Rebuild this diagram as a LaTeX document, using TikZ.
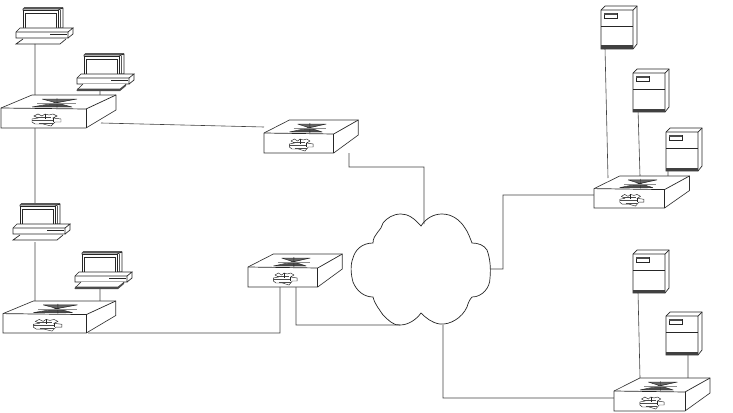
\documentclass[tikz,border=0pt]{standalone}
\tikzset{
  line/.style={line width=0.7pt,black!85},
  conn/.style={line width=0.6pt,black!75},
  hair/.style={line width=0.45pt,black!85},
  switchbox/.pic={
    \path[fill=white,line width=0.65pt,draw=black!80] (0,13)--(31,0)--(115,0)--(115,15)--(85,33)--(0,33)--cycle;
    \draw[line] (0,13)--(85,14)--(115,0);
    \draw[line] (85,14)--(85,33);
    % crossed arrows emblem on top
    \fill[black!60] (41,4)--(76,4)--(56,8)--cycle;
    \fill[black!70] (31,12)--(71,12)--(56,8)--cycle;
    \draw[hair] (41,4)--(76,4) (31,12)--(71,12) (41,4)--(71,12) (76,4)--(31,12) (56,3)--(56,13);
    \draw[black!45,line width=.5pt] (36,8)--(75,8);
    % logo on the front
    \draw[hair,fill=white] (33,21)--(37,19)--(41,21)--(44,19)--(48,20)--(52,19)--(56,21)--(52,23)--(60,24)--(60,27)--(54,27)--(50,31)--(42,29)--(34,29)--(31,27)--(31,24)--(37,23)--cycle;
    \draw[line width=1pt,black!70] (31,25)--(52,25) (36,22)--(50,22) (38,28)--(52,28);
    \draw[hair] (44,19)--(44,24) (52,23)--(52,27);
  },
  monitorpart/.pic={
    \draw[line,fill=white] (8,2)--(9,1)--(48,1)--(48,21)--(43,21)--(43,3)--(8,3)--cycle;
    \draw[line width=1.3pt,black!65] (9,1)--(48,1);
    \draw[line,fill=white] (8,3)--(43,3)--(43,21)--(8,21)--cycle;
    \draw[line] (10,6)--(41,6)--(41,21) (10,6)--(10,21);
    \draw[line] (43,3)--(48,1);
    \draw[line width=1.1pt,black!65] (45.5,3)--(45.5,21);
    \draw[line,fill=white] (1,25)--(5,21)--(58,21)--(53,25)--(53,31)--(1,31)--cycle;
    \draw[line] (53,25)--(1,25) (58,21)--(58,27)--(53,31);
    \draw[line width=0.9pt,black!85] (35,27)--(52,27);
  },
  pcfoot/.pic={
    \path (0,0) pic {monitorpart};
    \draw[line] (8,32)--(1,37)--(45,37)--(51,32);
  },
  pcdark/.pic={
    \path (0,0) pic {monitorpart};
    \draw[line,fill=white] (7,31)--(1,37)--(44,37)--(50,31);
    \fill[black!70] (1,35.5)--(44,35.5)--(50,31)--(50,33)--(44,38)--(1,38)--cycle;
  },
  serverbox/.pic={
    \draw[line,fill=white] (0,4)--(4,0)--(36,0)--(36,38)--(32,43)--(0,43)--cycle;
    \draw[line] (0,4)--(32,4)--(36,0) (32,4)--(32,43);
    \draw[line] (0,20)--(32,20);
    \draw[line,fill=white] (3,7) rectangle (16,12);
    \fill[black!70] (3,7) rectangle (16,9);
    \fill[black!75] (0,39.5) rectangle (32,43);
  }
}
\begin{document}
\begin{tikzpicture}[x=1pt,y=-1pt]
\useasboundingbox (0,0) rectangle (733,412);
% cloud outline points
\coordinate (cN) at (424,224);
\coordinate (cE) at (490,269);
\coordinate (cS) at (443,325);
\coordinate (cW) at (400,325);
\draw[line,fill=white] (421,226)
  .. controls (414,218) and (408,214) .. (401,214)
  .. controls (393,214) and (387,218) .. (383,223)
  .. controls (382,230) and (373,234) .. (373,243)
  .. controls (362,243) and (355,250) .. (353,258)
  .. controls (350,265) and (351,275) .. (353,282)
  .. controls (357,292) and (365,297) .. (373,297)
  .. controls (375,305) and (380,310) .. (383,315)
  .. controls (388,320) and (394,326) .. (400,325)
  .. controls (408,325) and (416,320) .. (421,313)
  .. controls (426,318) and (432,323) .. (440,324)
  .. controls (450,325) and (462,318) .. (467,307)
  .. controls (468,303) and (470,299) .. (472,297)
  .. controls (482,297) and (490,288) .. (490,278)
  .. controls (491,268) and (490,258) .. (487,250)
  .. controls (484,245) and (478,243) .. (472,243)
  .. controls (470,238) and (468,232) .. (465,228)
  .. controls (460,220) and (452,214) .. (442,214)
  .. controls (434,214) and (426,218) .. (421,226) -- cycle;
% device anchor coordinates
\coordinate (a1) at (35,44);  \coordinate (a1b) at (35,96);
\coordinate (a2) at (100,90); \coordinate (a2b) at (100,96);
\coordinate (aS) at (35,128); \coordinate (p3t) at (35,203);
\coordinate (p3b) at (35,242); \coordinate (dT) at (35,301);
\coordinate (p4b) at (100,288); \coordinate (d4) at (100,301);
\coordinate (aR) at (101,123); \coordinate (bL) at (264,127);
\coordinate (bB) at (349,153);
\coordinate (dR) at (88,333); \coordinate (cB1) at (280,287);
\coordinate (cB2) at (296,287);
\coordinate (eL) at (594,195);
\coordinate (fL) at (614,398);
\coordinate (s1) at (605,48); \coordinate (s1b) at (608,178);
\coordinate (s2) at (638,109); \coordinate (s2b) at (640,176);
\coordinate (s3) at (668,168); \coordinate (s3b) at (668,176);
\coordinate (s4) at (638,292); \coordinate (s4b) at (640,378);
\coordinate (s5) at (688,353); \coordinate (s5b) at (688,378);
% connectors
\draw[conn] (a1)--(a1b) (a2)--(a2b) (aS)--(p3t) (p3b)--(dT) (p4b)--(d4)
  (aR)--(bL)
  (bB)--(349,167)-|(cN)
  (dR)-|(cB1)
  (cB2)|-(cW)
  (cE)-|(503,195)--(eL)
  (cS)|-(fL)
  (s1)--(s1b) (s2)--(s2b) (s3)--(s3b) (s4)--(s4b) (s5)--(s5b);
% switches
\path (1,95) pic {switchbox};
\path (264,120) pic[xscale=.82] {switchbox};
\path (248,254) pic[xscale=.82] {switchbox};
\path (3,301) pic[xscale=.98,yscale=.97] {switchbox};
\path (594,176) pic[xscale=.83,yscale=.97] {switchbox};
\path (614,378) pic[xscale=.835] {switchbox};
% computers
\path (15,7) pic {pcfoot};
\path (76,53) pic {pcdark};
\path (12,203) pic {pcfoot};
\path (74,251) pic {pcdark};
% servers
\path (601,6) pic {serverbox};
\path (633,69) pic {serverbox};
\path (666,128) pic {serverbox};
\path (633,250) pic {serverbox};
\path (666,312) pic {serverbox};
\end{tikzpicture}
\end{document}
